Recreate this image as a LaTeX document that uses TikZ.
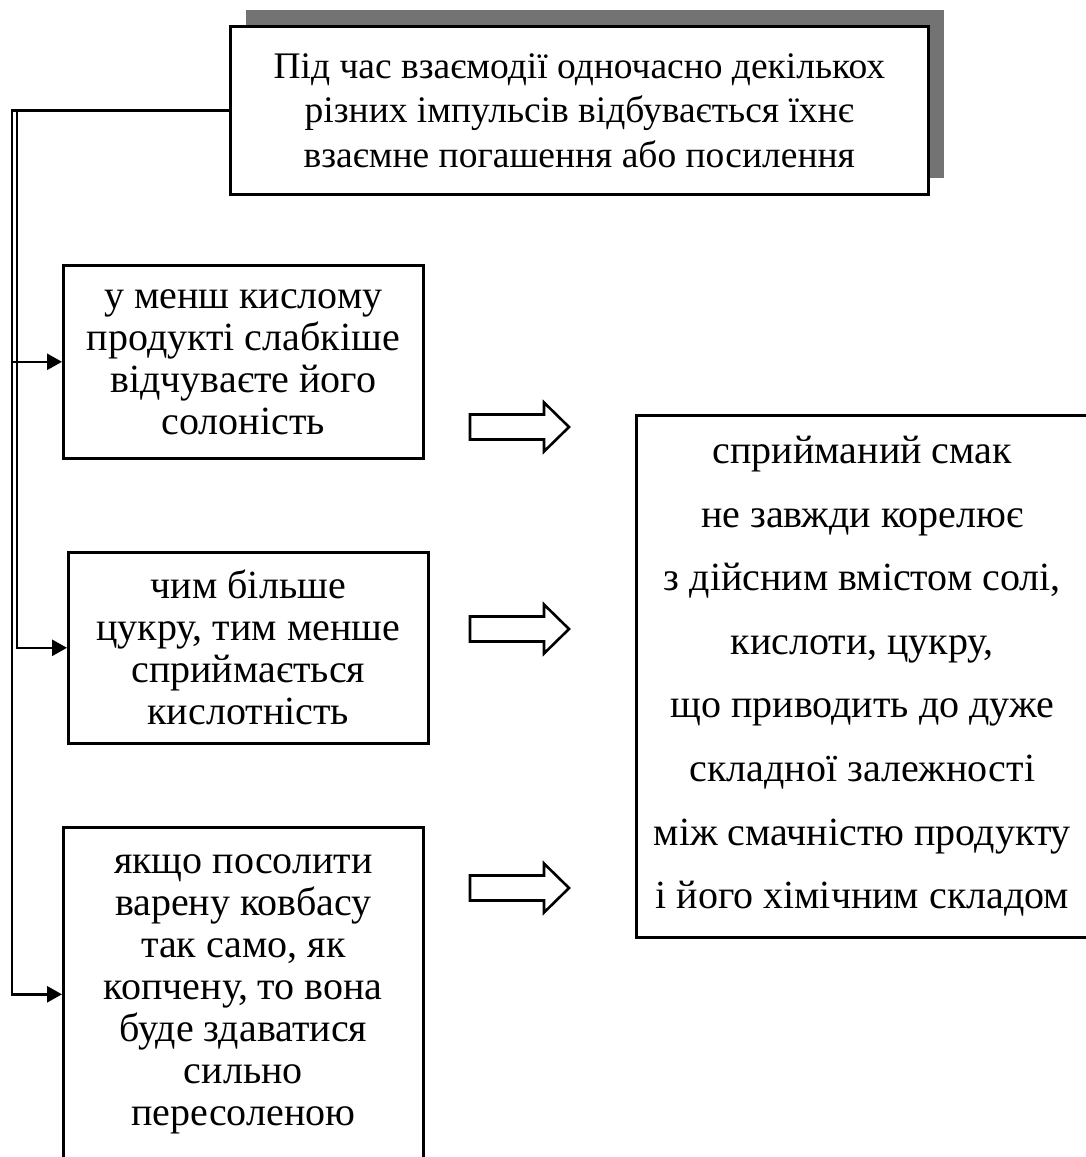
\documentclass[tikz,border=0pt]{standalone}
\usepackage{fontspec}
\setmainfont{Liberation Serif}
\usetikzlibrary{positioning}
\usetikzlibrary{arrows.meta}
\usetikzlibrary{shadows}

\begin{document}
\begin{tikzpicture}[x=1pt, y=-1pt,
    box/.style={rectangle, draw=black, line width=2.6pt, fill=white, align=center, inner sep=0pt, anchor=north west},
    link/.style={line width=2.6pt, -{Triangle[length=15pt, width=16pt]}},
    fat/.style={draw=black, line width=2.6pt, line join=miter}]
    \useasboundingbox (0,0) rectangle (1086,1157);
    \clip (0,0) rectangle (1086,1157);

    % statement on top, with its shadow
    \node[box, minimum width=698, minimum height=168,
          drop shadow={shadow xshift=16pt, shadow yshift=16pt, fill=black!55, opacity=1},
          font=\fontsize{37.5}{44.5}\selectfont] (top) at (229,25)
        {Під час взаємодії одночасно декількох\\різних імпульсів відбувається їхнє\\взаємне погашення або посилення};

    % the three cases
    \node[box, minimum width=360, minimum height=193, font=\fontsize{40}{42}\selectfont] (case1) at (62,264)
        {у менш кислому\\продукті слабкіше\\відчуваєте його\\солоність};
    \node[box, minimum width=360, minimum height=191, font=\fontsize{40}{42}\selectfont] (case2) at (67,551)
        {чим більше\\цукру, тим менше\\сприймається\\кислотність};
    \node[box, minimum width=360, minimum height=334, font=\fontsize{40}{42}\selectfont] (case3) at (62,826)
        {якщо посолити\\варену ковбасу\\так само, як\\копчену, то вона\\буде здаватися\\сильно\\пересоленою};

    % conclusion
    \node[box, minimum width=452, minimum height=522, font=\fontsize{40}{63.6}\selectfont] (result) at (635,414)
        {сприйманий смак\\не завжди корелює\\з дійсним вмістом солі,\\кислоти, цукру,\\що приводить до дуже\\складної залежності\\між смачністю продукту\\і його хімічним складом};

    % rails on the left
    \coordinate (outer) at (12,0);
    \coordinate (inner) at (17,0);
    \draw[link] (top.west) -| (outer |- case3.west) -- (case3.west);
    \draw[link] (top.west) -| (inner |- case2.west) -- (case2.west);
    \draw[link] (outer |- case1.west) -- (case1.west);

    % hollow arrows towards the conclusion
    \foreach \y in {427, 629, 888}
        \draw[fat] (470,\y-12.5) -- (544,\y-12.5) -- (544,\y-24.5) -- (569,\y)
            -- (544,\y+24.5) -- (544,\y+12.5) -- (470,\y+12.5) -- cycle;
\end{tikzpicture}
\end{document}
